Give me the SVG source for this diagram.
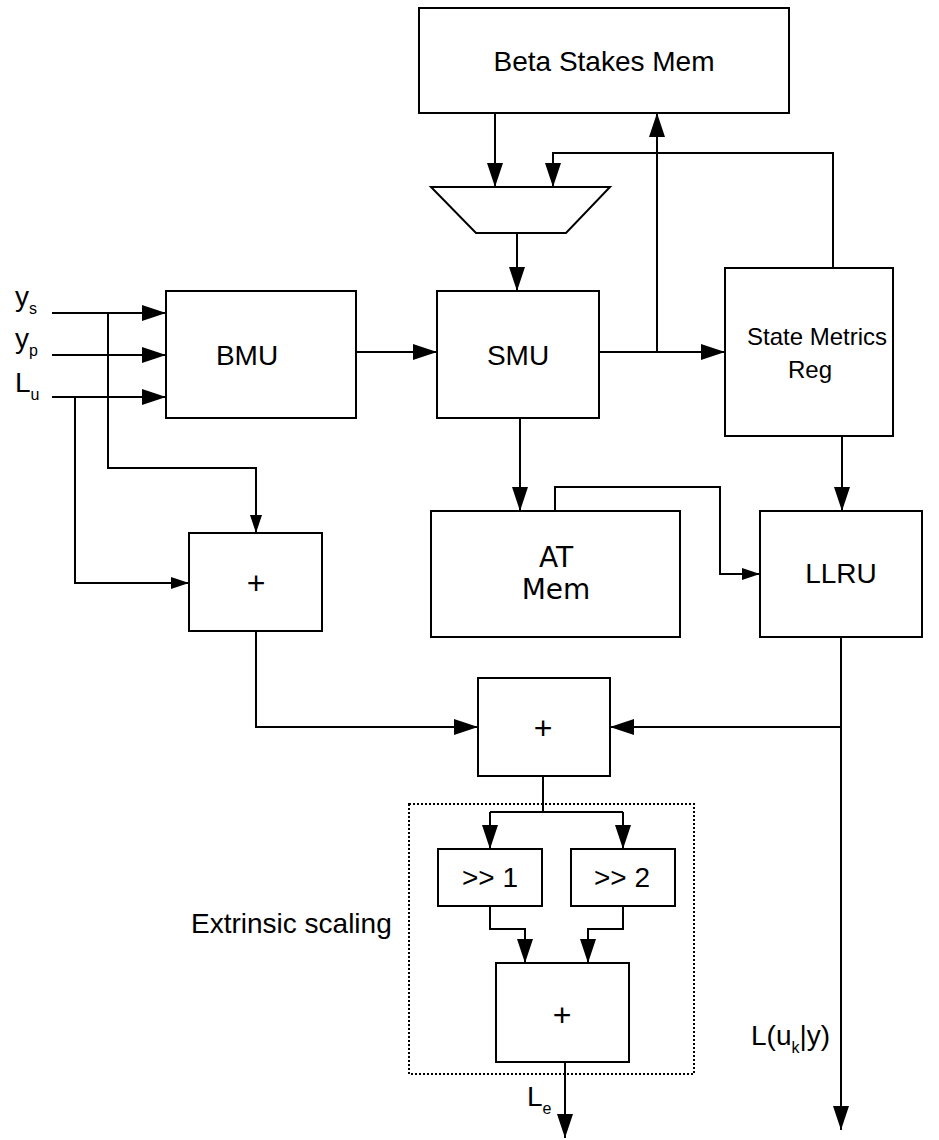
<svg xmlns="http://www.w3.org/2000/svg" width="939" height="1140" viewBox="0 0 939 1140">
<defs>
<marker id="ah" markerWidth="24" markerHeight="16" refX="24" refY="8" orient="auto" markerUnits="userSpaceOnUse"><path d="M0,0 L24,8 L0,16 Z" fill="#000"/></marker>
<marker id="as" markerWidth="18" markerHeight="12" refX="18" refY="6" orient="auto" markerUnits="userSpaceOnUse"><path d="M0,0 L18,6 L0,12 Z" fill="#000"/></marker>
</defs>
<style>
.b{fill:#fff;stroke:#000;stroke-width:2}
.c{fill:none;stroke:#000;stroke-width:2}
.t{font-family:"Liberation Sans",Arial,sans-serif;font-size:28px;fill:#000;text-anchor:middle}
.s{font-family:"Liberation Sans",Arial,sans-serif;font-size:24px;fill:#000;text-anchor:middle}
.d{font-family:"DejaVu Sans",sans-serif;font-size:28px;fill:#000;text-anchor:middle}
.p{font-family:"Liberation Sans",Arial,sans-serif;font-size:32px;fill:#000;text-anchor:middle}
.l{font-family:"Liberation Sans",Arial,sans-serif;font-size:28px;fill:#000}
</style>
<g id="connectors">
<path class="c" d="M52,313 H166" marker-end="url(#ah)"/>
<path class="c" d="M52,355 H166" marker-end="url(#ah)"/>
<path class="c" d="M52,397 H166" marker-end="url(#ah)"/>
<path class="c" d="M108,313 V468 H256 V533" marker-end="url(#as)"/>
<path class="c" d="M75,397 V583 H189" marker-end="url(#as)"/>
<path class="c" d="M356,352 H437" marker-end="url(#ah)"/>
<path class="c" d="M599,352 H725" marker-end="url(#ah)"/>
<path class="c" d="M657,352 V113" marker-end="url(#ah)"/>
<path class="c" d="M495,113 V187" marker-end="url(#ah)"/>
<path class="c" d="M833,268 V153 H553 V187" marker-end="url(#ah)"/>
<path class="c" d="M517,233 V291" marker-end="url(#ah)"/>
<path class="c" d="M520,418 V511" marker-end="url(#ah)"/>
<path class="c" d="M842,436 V511" marker-end="url(#ah)"/>
<path class="c" d="M555,511 V487 H720 V574 H760" marker-end="url(#as)"/>
<path class="c" d="M841,637 V1130" marker-end="url(#ah)"/>
<path class="c" d="M841,727 H610" marker-end="url(#ah)"/>
<path class="c" d="M256,631 V727 H478" marker-end="url(#ah)"/>
<path class="c" d="M543,776 V812"/>
<path class="c" d="M490,812 H623"/>
<path class="c" d="M490,812 V849" marker-end="url(#ah)"/>
<path class="c" d="M623,812 V849" marker-end="url(#ah)"/>
<path class="c" d="M490,906 V929 H525 V963" marker-end="url(#ah)"/>
<path class="c" d="M623,906 V929 H588 V963" marker-end="url(#ah)"/>
<path class="c" d="M565,1062 V1138" marker-end="url(#ah)"/>
</g>
<g id="scaling-group">
<rect x="409" y="804" width="285" height="270" fill="none" stroke="#000" stroke-width="2" stroke-dasharray="2,2"/>
<text class="l" x="191" y="933">Extrinsic scaling</text>
</g>
<g id="beta"><rect class="b" x="419" y="8" width="370" height="105"/><text class="t" x="604" y="71">Beta Stakes Mem</text></g>
<g id="mux"><polygon class="b" points="431,187 610,187 566,233 476,233"/></g>
<g id="bmu"><rect class="b" x="166" y="291" width="190" height="127"/><text class="t" x="247" y="365">BMU</text></g>
<g id="smu"><rect class="b" x="437" y="291" width="162" height="127"/><text class="t" x="518" y="365">SMU</text></g>
<g id="smr"><rect class="b" x="725" y="268" width="168" height="168"/><text class="s" x="817" y="345">State Metrics</text><text class="s" x="810" y="378">Reg</text></g>
<g id="atmem"><rect class="b" x="431" y="511" width="249" height="126"/><text class="d" x="556" y="567">AT</text><text class="d" x="556" y="599">Mem</text></g>
<g id="llru"><rect class="b" x="760" y="511" width="162" height="126"/><text class="t" x="841" y="583">LLRU</text></g>
<g id="add1"><rect class="b" x="189" y="533" width="133" height="98"/><text class="p" x="256" y="594">+</text></g>
<g id="add2"><rect class="b" x="478" y="678" width="132" height="98"/><text class="p" x="543" y="739">+</text></g>
<g id="shr1"><rect class="b" x="438" y="849" width="104" height="57"/><text class="t" x="490" y="887">&gt;&gt; 1</text></g>
<g id="shr2"><rect class="b" x="571" y="849" width="104" height="57"/><text class="t" x="622" y="887">&gt;&gt; 2</text></g>
<g id="add3"><rect class="b" x="496" y="963" width="133" height="99"/><text class="p" x="562" y="1026">+</text></g>
<g id="labels">
<text class="l" x="15" y="306">y<tspan font-size="16" dy="8">s</tspan></text>
<text class="l" x="15" y="348">y<tspan font-size="16" dy="8">p</tspan></text>
<text class="l" x="15" y="392">L<tspan font-size="16" dy="8">u</tspan></text>
<text class="l" x="527" y="1106">L<tspan font-size="16" dy="8">e</tspan></text>
<text class="l" x="751" y="1045">L(u<tspan font-size="16" dy="8">k</tspan><tspan dy="-8">|y)</tspan></text>
</g>
</svg>
